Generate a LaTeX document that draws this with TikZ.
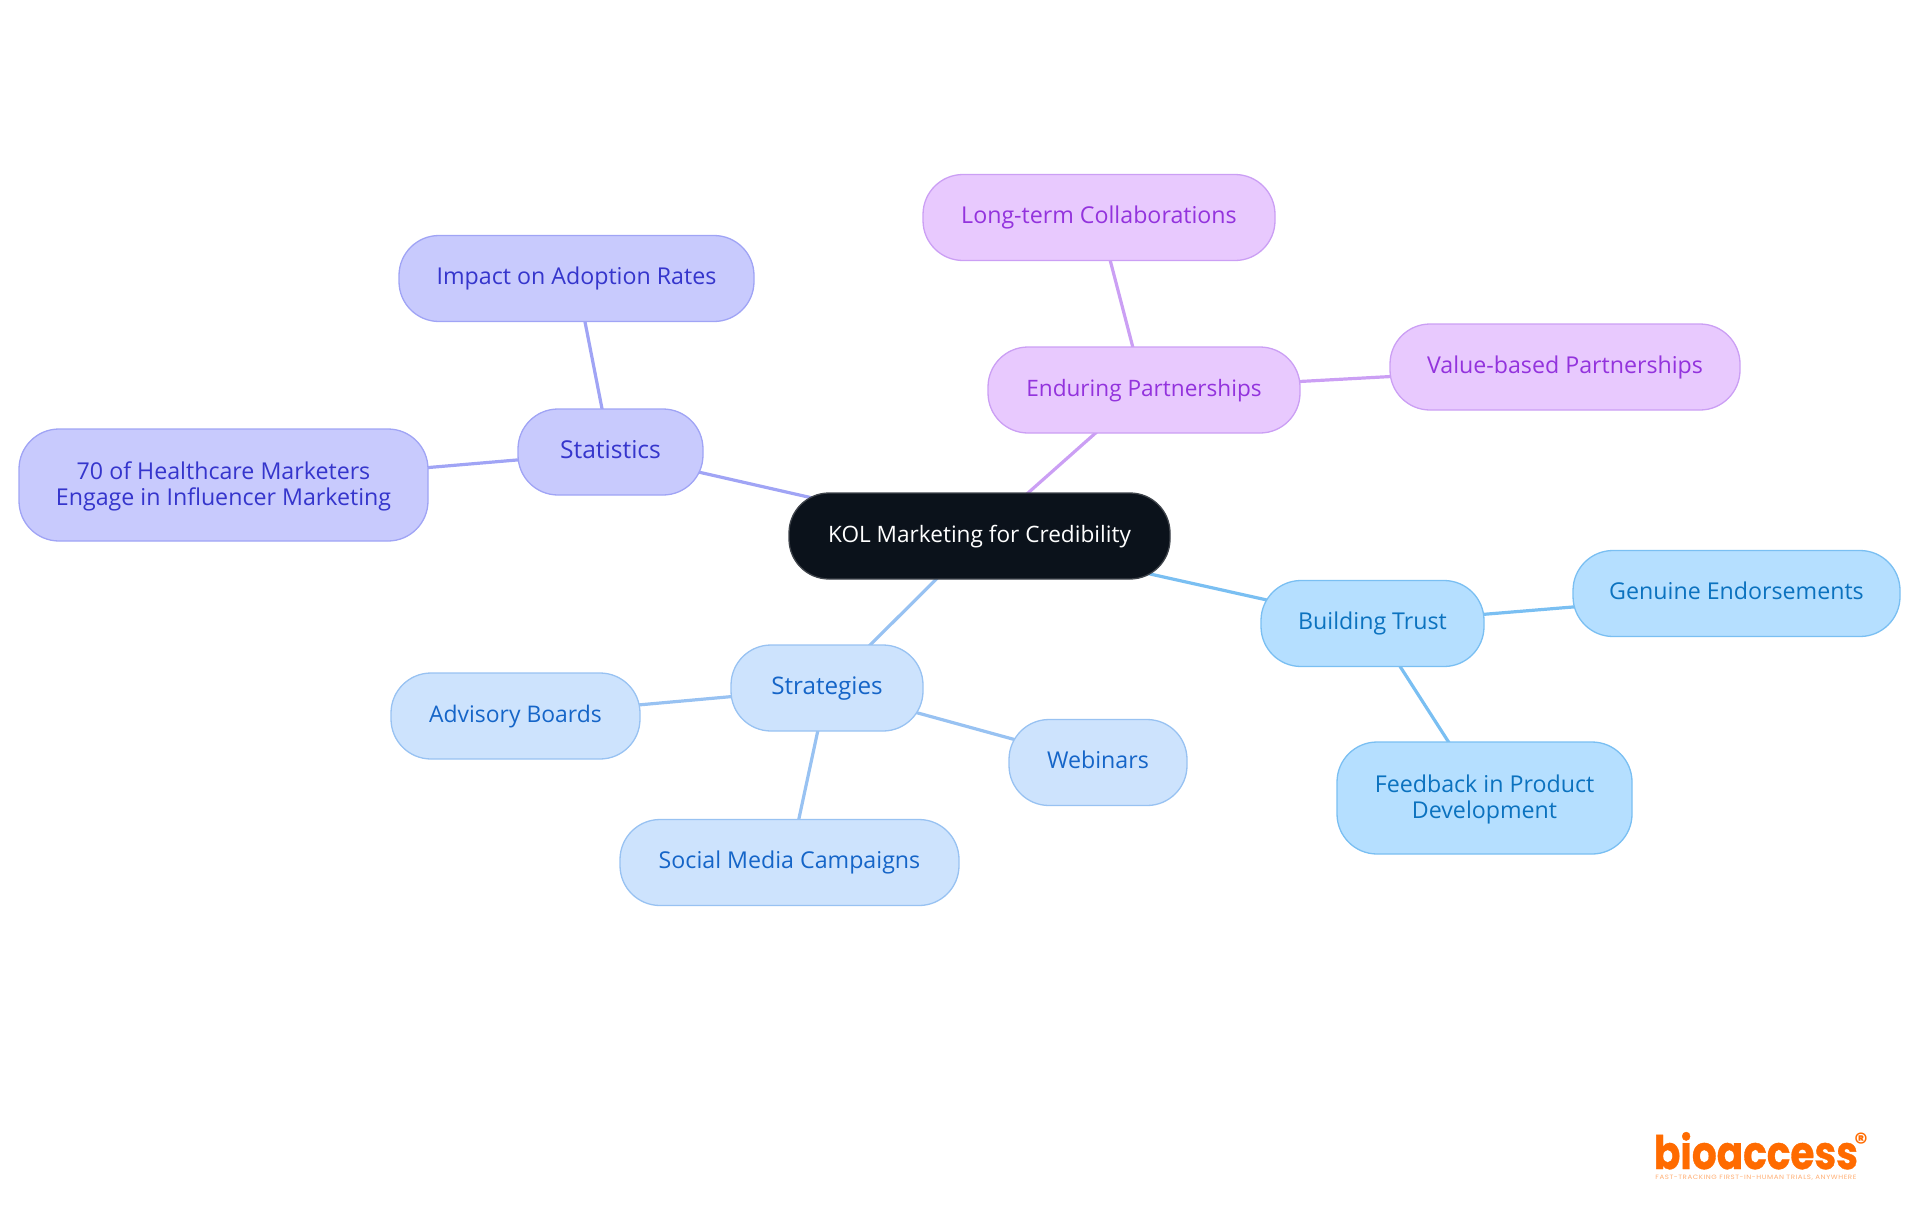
\documentclass[tikz,border=0pt]{standalone}
\usepackage{fontspec}
\usepackage{graphicx}
\setmainfont{Open Sans}
\newfontfamily\logofont{Poppins}
\newfontfamily\logoheavy[BoldFeatures={FakeBold=0.8}]{Poppins}
\usetikzlibrary{backgrounds}
\definecolor{rootfill}{HTML}{0B121B}
\definecolor{rootline}{HTML}{3F444B}
\definecolor{statfill}{HTML}{C8CAFD}
\definecolor{statline}{HTML}{A0A4F5}
\definecolor{stattext}{HTML}{3535CC}
\definecolor{endfill}{HTML}{E8C9FE}
\definecolor{endline}{HTML}{CB9FF4}
\definecolor{endtext}{HTML}{9333DD}
\definecolor{trustfill}{HTML}{B5DFFF}
\definecolor{trustline}{HTML}{7ABFF2}
\definecolor{trusttext}{HTML}{0B72BF}
\definecolor{stratfill}{HTML}{CDE3FD}
\definecolor{stratline}{HTML}{98C2F2}
\definecolor{strattext}{HTML}{1565C8}
\definecolor{logoorange}{HTML}{FF6B00}
\tikzset{
  x=0.5pt,y=-0.5pt,
  fsize/.style={font=\fontsize{#1}{13}\selectfont},
  mapnode/.style={rounded corners=20pt,line width=0.65pt,inner sep=0pt,align=center,
    fsize=11.6,minimum height=43pt,text height=9.3pt,text depth=3pt},
  twolines/.style={minimum height=56pt,text height=23pt,text depth=3pt},
  rootnode/.style={mapnode,draw=rootline,fill=rootfill,text=white},
  statnode/.style={mapnode,draw=statline,fill=statfill,text=stattext},
  endnode/.style={mapnode,draw=endline,fill=endfill,text=endtext},
  trustnode/.style={mapnode,draw=trustline,fill=trustfill,text=trusttext},
  stratnode/.style={mapnode,draw=stratline,fill=stratfill,text=strattext},
  statlink/.style={draw=statline,line width=1.6pt},
  endlink/.style={draw=endline,line width=1.6pt},
  trustlink/.style={draw=trustline,line width=1.6pt},
  stratlink/.style={draw=stratline,line width=1.6pt},
}
\begin{document}
\begin{tikzpicture}
\useasboundingbox (0,0) rectangle (1920,1215);
\node[rootnode,fsize=11.3,minimum width=190.5pt] (root) at (979.5,536) {KOL Marketing for Credibility};
\node[statnode,fsize=12.3,minimum width=92.5pt] (stat) at (610.5,452) {Statistics};
\node[statnode,minimum width=177.5pt] (impact) at (576.5,278.5) {Impact on Adoption Rates};
\node[statnode,twolines,minimum width=204.5pt] (seventy) at (223.5,485) {70 of Healthcare Marketers\\Engage in Influencer Marketing};
\node[endnode,fsize=11.3,minimum width=156pt] (endur) at (1144,390) {Enduring Partnerships};
\node[endnode,minimum width=176pt] (long) at (1099,217.5) {Long-term Collaborations};
\node[endnode,minimum width=175pt] (value) at (1565,367) {Value-based Partnerships};
\node[trustnode,minimum width=111.5pt] (trust) at (1372.5,623.5) {Building Trust};
\node[trustnode,minimum width=163.5pt] (genuine) at (1736.5,593.5) {Genuine Endorsements};
\node[trustnode,twolines,minimum width=147.5pt] (feedback) at (1484.5,798) {Feedback in Product\\Development};
\node[stratnode,fsize=12.1,minimum width=96pt] (strat) at (827,688) {Strategies};
\node[stratnode,fsize=11.45,minimum width=124.5pt] (advisory) at (515.5,716) {Advisory Boards};
\node[stratnode,minimum width=89pt] (webinars) at (1098,762.5) {Webinars};
\node[stratnode,minimum width=169.5pt] (social) at (789.5,862.5) {Social Media Campaigns};
\begin{scope}[on background layer]
\draw[statlink] (root.center) -- (stat.center);
\draw[statlink] (stat.center) -- (impact.center);
\draw[statlink] (stat.center) -- (seventy.center);
\draw[endlink] (root.center) -- (endur.center);
\draw[endlink] (endur.center) -- (long.center);
\draw[endlink] (endur.center) -- (value.center);
\draw[trustlink] (root.center) -- (trust.center);
\draw[trustlink] (trust.center) -- (genuine.center);
\draw[trustlink] (trust.center) -- (feedback.center);
\draw[stratlink] (root.center) -- (strat.center);
\draw[stratlink] (strat.center) -- (advisory.center);
\draw[stratlink] (strat.center) -- (webinars.center);
\draw[stratlink] (strat.center) -- (social.center);
\end{scope}
\node[inner sep=0pt,anchor=base west,text=logoorange] (logo) at (1653.5,1169) {\resizebox{102pt}{18.5pt}{\logoheavy\bfseries bioaccess}};
\node[inner sep=0pt,text=logoorange] (logomark) at (1861,1142) {\logofont\bfseries\fontsize{13}{14}\selectfont ®};
\node[inner sep=0pt,anchor=base west,text=logoorange!55] (tagline) at (1655,1179.5) {\resizebox{100.5pt}{2.2pt}{\logofont\fontsize{5}{6}\selectfont\addfontfeature{LetterSpace=8}FAST-TRACKING FIRST-IN-HUMAN TRIALS, ANYWHERE}};
\end{tikzpicture}
\end{document}
